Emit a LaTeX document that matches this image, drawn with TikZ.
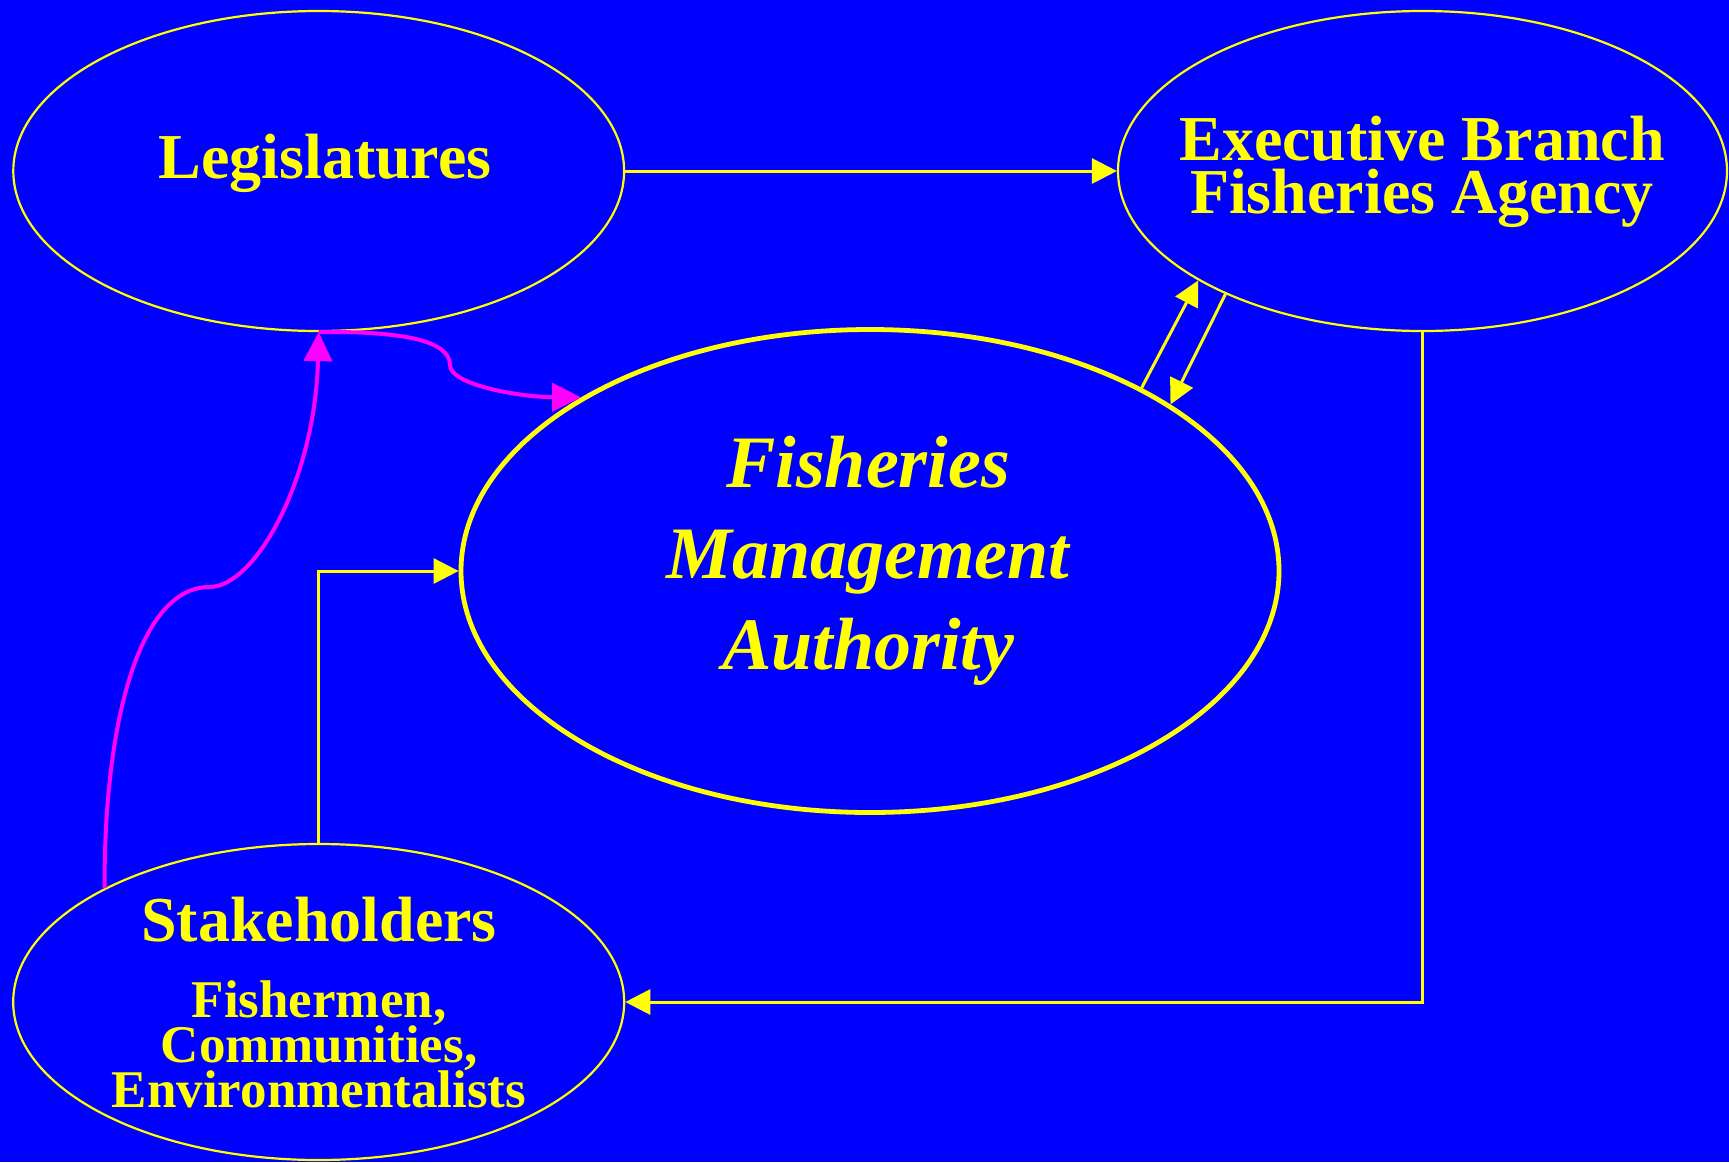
\documentclass[tikz,border=0pt]{standalone}
\usepackage{fontspec}
\setmainfont{Liberation Serif}
\usetikzlibrary{shapes.geometric,arrows.meta}
\definecolor{bgblue}{RGB}{0,0,255}
\definecolor{ylw}{RGB}{255,255,0}
\definecolor{mag}{RGB}{255,0,255}
\tikzset{
  ell/.style={shape=ellipse,draw=ylw,line width=1.1pt,inner sep=0pt},
  bigell/.style={shape=ellipse,draw=ylw,line width=2.4pt,inner sep=0pt},
  txt/.style={text=ylw,font=\fontsize{32}{25}\selectfont\bfseries,anchor=base,inner sep=0pt},
  subtxt/.style={text=ylw,font=\fontsize{26.5}{22}\selectfont\bfseries,anchor=base,inner sep=0pt},
  itxt/.style={text=ylw,font=\fontsize{37}{45}\selectfont\bfseries\itshape,anchor=base,inner sep=0pt},
  yarr/.style={draw=ylw,line width=1.5pt,-{Triangle[length=12.5pt,width=12.5pt]}},
  marr/.style={draw=mag,line width=2pt,-{Triangle[length=14.5pt,width=14pt]}}
}
\begin{document}
\begin{tikzpicture}[x=0.5pt,y=-0.5pt]
\fill[bgblue] (0,0) rectangle (1729,1162);
\useasboundingbox (0,0) rectangle (1729,1162);
% ellipses
\node[ell,minimum width=305.4pt,minimum height=160pt] (leg) at (318.7,171) {};
\node[ell,minimum width=304.5pt,minimum height=160pt] (exec) at (1422.5,171) {};
\node[bigell,minimum width=409pt,minimum height=241.5pt] (fma) at (870,571) {};
\node[ell,minimum width=305.5pt,minimum height=158pt] (stake) at (318.7,1002) {};
% texts
\node[txt] (legt) at (325,178) {Legislatures};
\node[txt] (exect1) at (1422,160) {Executive Branch};
\node[txt] (exect2) at (1422,213) {Fisheries Agency};
\node[itxt] (fmat1) at (868,487) {Fisheries};
\node[itxt] (fmat2) at (868,578) {Management};
\node[itxt] (fmat3) at (868,669) {Authority};
\node[txt] (staket) at (319,941) {Stakeholders};
\node[subtxt] (sub1) at (319,1017) {Fishermen,};
\node[subtxt] (sub2) at (319,1062) {Communities,};
\node[subtxt] (sub3) at (319,1107) {Environmentalists};
% connectors
\draw[yarr] (leg.east) -- (exec.west);
\draw[yarr] (exec.south) |- (stake.east);
\draw[yarr] (stake.north) |- (fma.west);
\draw[yarr] (fma.34) -- (exec.206.3);
\draw[yarr] (exec.212.8) -- (fma.29.1);
% magenta curves
\coordinate (m1) at (209.5,587);
\coordinate (m2) at (450,365);
\draw[marr] (stake.152.2) .. controls (104,720) and (140,587) .. (m1)
  .. controls (255,587) and (315,480) .. (leg.south);
\draw[marr] (leg.south) .. controls (400,331) and (450,340) .. (m2)
  .. controls (450,385) and (520,397) .. (fma.149.3);
\end{tikzpicture}
\end{document}
